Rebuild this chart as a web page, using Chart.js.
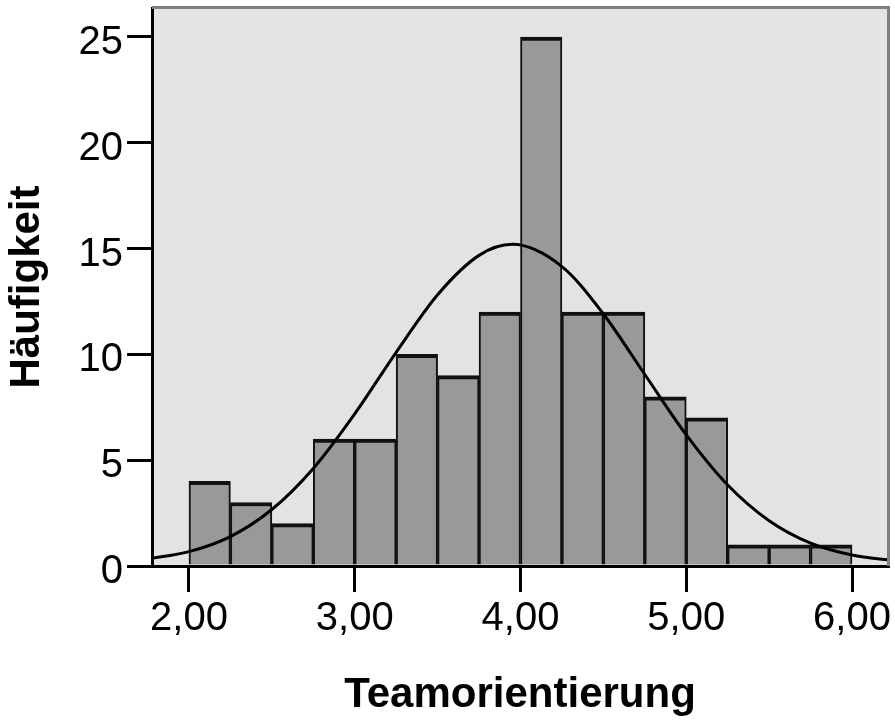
<!DOCTYPE html>
<html>
<head>
<meta charset="utf-8">
<script src="https://cdn.jsdelivr.net/npm/chart.js@4/dist/chart.umd.min.js"></script>
<style>
  html, body { margin: 0; padding: 0; background: #fff; }
  canvas { display: block; }
</style>
</head>
<body>
<canvas id="histChart" width="895" height="721"></canvas>
<script>
// Histogramm Teamorientierung (Klassenbreite 0,25)
const binCenters = [2.125, 2.375, 2.625, 2.875, 3.125, 3.375, 3.625, 3.875,
                    4.125, 4.375, 4.625, 4.875, 5.125, 5.375, 5.625, 5.875];
const counts = [4, 3, 2, 6, 6, 10, 9, 12, 25, 12, 12, 8, 7, 1, 1, 1];

// Normalverteilungskurve
const curveX = [1.75, 2.0, 2.25, 2.5, 2.75, 3.0, 3.25, 3.5, 3.75, 3.95,
                4.25, 4.5, 4.75, 5.0, 5.25, 5.5, 5.75, 6.0, 6.25];
const curveY = [0.33, 0.68, 1.39, 2.67, 4.61, 7.19, 10.1, 12.82, 14.68, 15.2,
                14.15, 11.91, 9.05, 6.2, 3.83, 2.14, 1.08, 0.52, 0.26];

const xTickValues = [2, 3, 4, 5, 6];
const xTickLabels = ["2,00", "3,00", "4,00", "5,00", "6,00"];
const yTickValues = [0, 5, 10, 15, 20, 25];
const yTickLabels = ["0", "5", "10", "15", "20", "25"];

const FONT = "'Liberation Sans', Arial, sans-serif";

const plotFrame = {
  id: "plotFrame",
  beforeDraw(chart) {
    const { ctx, chartArea: a } = chart;
    ctx.save();
    ctx.fillStyle = "#e3e3e3";
    ctx.fillRect(a.left, a.top, a.right - a.left, a.bottom - a.top);
    ctx.restore();
  },
  afterDraw(chart) {
    const { ctx, chartArea: a } = chart;
    ctx.save();
    ctx.strokeStyle = "#808080";
    ctx.lineWidth = 3;
    ctx.beginPath();
    ctx.moveTo(a.left, a.top - 0.5);
    ctx.lineTo(a.right + 0.5, a.top - 0.5);
    ctx.lineTo(a.right + 0.5, a.bottom);
    ctx.stroke();
    ctx.restore();
  }
};

const ctx = document.getElementById("histChart").getContext("2d");

new Chart(ctx, {
  type: "bar",
  data: {
    datasets: [
      {
        type: "line",
        data: curveX.map((x, i) => ({ x: x, y: curveY[i] })),
        borderColor: "#000",
        borderWidth: 3,
        pointRadius: 0,
        cubicInterpolationMode: "monotone",
        fill: false,
        order: 0
      },
      {
        type: "bar",
        data: binCenters.map((x, i) => ({ x: x, y: counts[i] })),
        backgroundColor: "#999999",
        borderColor: "#111111",
        borderWidth: { top: 4, left: 2, right: 2, bottom: 0 },
        barPercentage: 1,
        categoryPercentage: 1,
        order: 1
      }
    ]
  },
  options: {
    responsive: false,
    animation: false,
    devicePixelRatio: 1,
    layout: { padding: { top: 8, right: 7, left: 0, bottom: 0 } },
    plugins: {
      legend: { display: false },
      tooltip: { enabled: false }
    },
    scales: {
      x: {
        type: "linear",
        min: 1.777,
        max: 6.217,
        offset: false,
        z: 1,
        afterFit(scale) {
          scale.height = 155;
          scale.paddingLeft = 0;
          scale.paddingRight = 0;
        },
        afterBuildTicks(scale) { scale.ticks = xTickValues.map(v => ({ value: v })); },
        ticks: {
          color: "#000",
          padding: 3,
          maxRotation: 0,
          font: { family: FONT, size: 40 },
          callback: (v, i) => xTickLabels[i]
        },
        grid: {
          offset: false,
          drawOnChartArea: false,
          drawTicks: true,
          tickLength: 26,
          tickColor: "#000",
          lineWidth: 3
        },
        border: { display: true, color: "#000", width: 3 },
        title: {
          display: true,
          text: "Teamorientierung",
          color: "#000",
          padding: { top: 0, bottom: 0 },
          font: { family: FONT, size: 42, weight: "bold" }
        }
      },
      y: {
        type: "linear",
        min: 0,
        max: 26.37,
        z: 1,
        afterFit(scale) {
          scale.width = 152;
          scale.paddingTop = 0;
          scale.paddingBottom = 0;
        },
        afterBuildTicks(scale) { scale.ticks = yTickValues.map(v => ({ value: v })); },
        ticks: {
          color: "#000",
          padding: 4,
          labelOffset: 6,
          font: { family: FONT, size: 40 },
          callback: (v, i) => yTickLabels[i]
        },
        grid: {
          drawOnChartArea: false,
          drawTicks: true,
          tickLength: 25,
          tickColor: "#000",
          lineWidth: 3
        },
        border: { display: true, color: "#000", width: 3 },
        title: {
          display: true,
          text: "Häufigkeit",
          color: "#000",
          padding: { top: 2, bottom: 0 },
          font: { family: FONT, size: 42, weight: "bold" }
        }
      }
    }
  },
  plugins: [plotFrame]
});
</script>
</body>
</html>
